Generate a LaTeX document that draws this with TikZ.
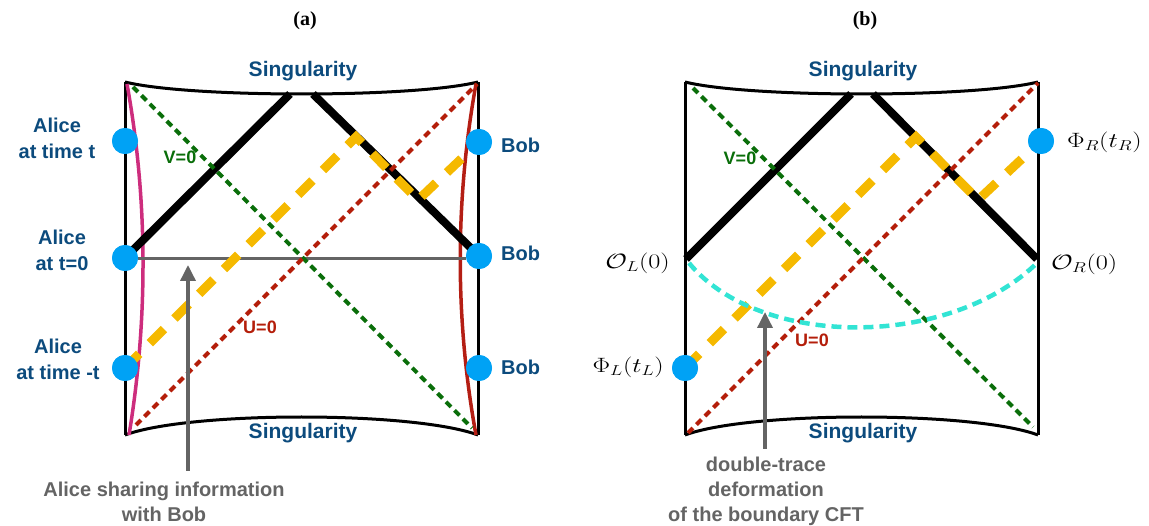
\documentclass[tikz,border=0pt]{standalone}
\usepackage{fontspec}
\usepackage{graphicx}
\setmainfont{Liberation Serif}
\setsansfont{Liberation Sans}
\usetikzlibrary{arrows.meta}
\definecolor{sblue}{RGB}{12,75,125}
\definecolor{dotblue}{RGB}{0,162,245}
\definecolor{orng}{RGB}{245,185,0}
\definecolor{vgreen}{RGB}{10,110,10}
\definecolor{ured}{RGB}{180,30,10}
\definecolor{pinkc}{RGB}{205,45,125}
\definecolor{redc}{RGB}{180,30,20}
\definecolor{cyn}{RGB}{50,228,212}
\definecolor{ngray}{RGB}{100,100,100}
\tikzset{
  bnd/.style={draw=black, line width=3pt},
  horizon/.style={draw=black, line width=8pt},
  gdash/.style={draw=vgreen, line width=4pt, dash pattern=on 7pt off 5pt},
  rdash/.style={draw=ured, line width=4pt, dash pattern=on 7pt off 5pt},
  odash/.style={draw=orng, line width=9pt, dash pattern=on 20pt off 15pt},
  cdash/.style={draw=cyn, line width=4.5pt, dash pattern=on 10pt off 6pt},
  pinkline/.style={draw=pinkc, line width=3.5pt},
  redline/.style={draw=redc, line width=3.5pt},
  grayline/.style={draw=ngray, line width=3pt},
  dot/.style={circle, fill=dotblue, minimum size=26pt, inner sep=0pt},
  lbl/.style={font=\sffamily\bfseries\fontsize{20}{26}\selectfont, text=sblue, align=center, inner sep=0pt},
  sing/.style={font=\sffamily\bfseries\fontsize{21}{26}\selectfont, text=sblue, inner sep=0pt},
  glbl/.style={font=\sffamily\bfseries\fontsize{18}{22}\selectfont, text=vgreen, inner sep=0pt},
  rlbl/.style={font=\sffamily\bfseries\fontsize{18}{22}\selectfont, text=ured, inner sep=0pt},
  note/.style={font=\sffamily\bfseries\fontsize{20}{25}\selectfont, text=ngray, align=center, inner sep=0pt},
  mlbl/.style={font=\fontsize{21}{21}\selectfont, inner sep=0pt},
  ttl/.style={font=\bfseries\fontsize{20}{24}\selectfont, inner sep=0pt},
  arr/.style={draw=ngray, line width=3.5pt, -{Triangle[length=16pt,width=15pt]}},
}
\newcommand{\mwide}[1]{\scalebox{1.27}[1]{$#1$}}
\begin{document}
\begin{tikzpicture}[x=1pt,y=-1pt]
\useasboundingbox (0,0) rectangle (1149,526);

% ================= panel (a) =================
\node[ttl] (ta) at (305,21) {(a)};
\coordinate (aTL) at (125,82);
\coordinate (aTR) at (478,82);
\coordinate (aBL) at (125,435);
\coordinate (aBR) at (478,435);
\draw[bnd] (aTL) .. controls (190,98) and (413,98) .. (aTR);
\draw[bnd] (aBL) .. controls (190,411) and (413,411) .. (aBR);
\draw[bnd] (aTL) -- (aBL);
\draw[bnd] (aTR) -- (aBR);
\draw[pinkline] (127,84) .. controls (148,200) and (148,320) .. (129,435);
\draw[redline] (476,84) .. controls (455,200) and (455,320) .. (476,435);

\node[dot] (aliceT) at (125,141) {};
\node[dot] (aliceM) at (125,258) {};
\node[dot] (aliceB) at (125,368) {};
\node[dot] (bobT) at (479,142) {};
\node[dot] (bobM) at (479,256) {};
\node[dot] (bobB) at (479,368) {};

\coordinate (aSL) at (290,94);
\coordinate (aSR) at (313,94);
\draw[grayline] (aliceM.east |- 0,259) -- (bobM.west |- 0,259);
\draw[horizon] (aliceM.center) -- (aSL);
\draw[horizon] (aSR) -- (bobM.center);

\coordinate (aG1) at (133,87);
\coordinate (aG2) at (472,428);
\coordinate (aR1) at (136,425);
\coordinate (aR2) at (477,84);
\draw[gdash] (aG1) -- (aG2);
\draw[rdash] (aR1) -- (aR2);

\coordinate (aO1) at (356,137);
\coordinate (aO2) at (418,200);
\draw[odash] (aliceB.center) -- (aO1) -- (aO2) -- (bobT.center);

% redraw dots on top
\node[dot] at (aliceT) {};
\node[dot] at (aliceM) {};
\node[dot] at (aliceB) {};
\node[dot] at (bobT) {};
\node[dot] at (bobM) {};
\node[dot] at (bobB) {};

\node[sing] (singAT) at (303,71) {Singularity};
\node[sing] (singAB) at (303,433) {Singularity};
\node[glbl] (vA) at (180,157) {V=0};
\node[rlbl] (uA) at (260,327) {U=0};

\node[lbl] (lAT) at (57,138.5) {Alice\\at time t};
\node[lbl] (lAM) at (62,250.5) {Alice\\at t=0};
\node[lbl] (lAB) at (58,359.5) {Alice\\at time -t};
\node[lbl, anchor=west] (lBT) at (501,145) {Bob};
\node[lbl, anchor=west] (lBM) at (501,253) {Bob};
\node[lbl, anchor=west] (lBB) at (501,367) {Bob};

\node[note] (noteA) at (164,502) {Alice sharing information\\with Bob};
\coordinate (arrAbase) at (188,471);
\coordinate (arrAtip) at (188,265);
\draw[arr] (arrAbase) -- (arrAtip);

% ================= panel (b) =================
\node[ttl] (tb) at (865,21) {(b)};
\coordinate (bTL) at (685,82);
\coordinate (bTR) at (1038,82);
\coordinate (bBL) at (685,435);
\coordinate (bBR) at (1038,435);
\draw[bnd] (bTL) .. controls (750,98) and (973,98) .. (bTR);
\draw[bnd] (bBL) .. controls (750,411) and (973,411) .. (bBR);
\draw[bnd] (bTL) -- (bBL);
\draw[bnd] (bTR) -- (bBR);

\coordinate (OL) at (686,259);
\coordinate (OR) at (1037,259);
\coordinate (bSL) at (851,94);
\coordinate (bSR) at (873,94);
\draw[horizon] (OL) -- (bSL);
\draw[horizon] (bSR) -- (OR);

\coordinate (bG1) at (693,88);
\coordinate (bG2) at (1033,427);
\coordinate (bR1) at (688,433);
\coordinate (bR2) at (1038,83);
\draw[gdash] (bG1) -- (bG2);
\draw[rdash] (bR1) -- (bR2);

\node[dot] (phiL) at (685,368) {};
\node[dot] (phiR) at (1041,141) {};
\coordinate (bO1) at (916,137);
\coordinate (bO2) at (978,200);
\draw[odash] (phiL.center) -- (bO1) -- (bO2) -- (phiR.center);

\coordinate (cL) at (689,263);
\coordinate (cR) at (1038,262);
\draw[cdash] (cL) .. controls (760,349) and (950,349) .. (cR);

\node[dot] at (phiL) {};
\node[dot] at (phiR) {};

\node[sing] (singBT) at (863,71) {Singularity};
\node[sing] (singBB) at (863,433) {Singularity};
\node[glbl] (vB) at (740,158) {V=0};
\node[rlbl] (uB) at (812,340) {U=0};

\node[mlbl, anchor=east] (lOL) at (670,263) {\mwide{\mathcal{O}_L(0)}};
\node[mlbl, anchor=east] (lPL) at (664,367) {\mwide{\Phi_L(t_L)}};
\node[mlbl, anchor=west] (lOR) at (1051,264) {\mwide{\mathcal{O}_R(0)}};
\node[mlbl, anchor=west] (lPR) at (1067,142) {\mwide{\Phi_R(t_R)}};

\node[note] (noteB) at (766,491) {double-trace\\deformation\\of the boundary CFT};
\coordinate (arrBbase) at (765,449);
\coordinate (arrBtip) at (765,312);
\draw[arr] (arrBbase) -- (arrBtip);
\end{tikzpicture}
\end{document}
